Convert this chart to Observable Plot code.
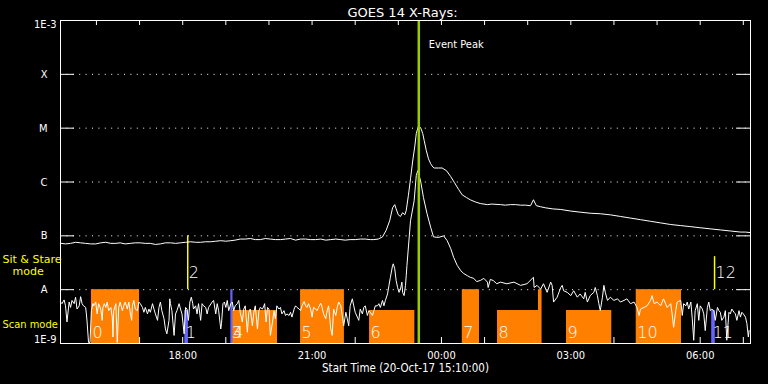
<!DOCTYPE html>
<html>
<head>
<meta charset="utf-8">
<script src="https://cdn.jsdelivr.net/npm/d3@7"></script>
<script src="https://cdn.jsdelivr.net/npm/@observablehq/plot@0.6"></script>
<style>
  html, body { margin: 0; padding: 0; background: #000; }
  svg { display: block; }
</style>
</head>
<body>
<div id="chart"></div>
<script>
// ---- Data ----
const startTime = "2017-10-20T15:10:00Z";
const endTime = "2017-10-21T07:10:00Z";
const chartTitle = "GOES 14 X-Rays:";
const xCaption = "Start Time (20-Oct-17 15:10:00)";
const eventPeakMinute = 498.5; // minutes after start
const eventPeakLabel = "Event Peak";

// y tick values and labels
const yTickValues = [1e-9, 1e-8, 1e-7, 1e-6, 1e-5, 1e-4, 1e-3];
const yTickLabels = ["1E-9", "A", "B", "C", "M", "X", "1E-3"];
const gridLevels = [1e-8, 1e-7, 1e-6, 1e-5, 1e-4];

// x tick labels
const xTickTimes = ["2017-10-20T18:00:00Z", "2017-10-20T21:00:00Z", "2017-10-21T00:00:00Z", "2017-10-21T03:00:00Z", "2017-10-21T06:00:00Z"];
const xTickLabels = ["18:00", "21:00", "00:00", "03:00", "06:00"];

// Long channel (1-8 A): [minutes after start, log10 flux]
const longChannel = [
  [1,-7.14],[7,-7.15],[14,-7.14],[21,-7.12],[28,-7.13],[35,-7.14],[42,-7.15],[49,-7.15],[56,-7.13],[63,-7.12],
  [70,-7.14],[77,-7.14],[83,-7.13],[90,-7.15],[97,-7.14],[104,-7.13],[111,-7.13],[118,-7.14],[125,-7.14],[132,-7.16],
  [139,-7.15],[146,-7.13],[153,-7.13],[160,-7.14],[167,-7.13],[174,-7.12],[181,-7.11],[188,-7.12],[195,-7.12],[202,-7.11],
  [209,-7.11],[216,-7.10],[223,-7.09],[230,-7.10],[237,-7.09],[243,-7.08],[250,-7.06],[257,-7.06],[264,-7.05],[271,-7.07],
  [278,-7.07],[285,-7.05],[292,-7.06],[299,-7.07],[306,-7.07],[313,-7.06],[320,-7.05],[327,-7.08],[334,-7.06],[341,-7.06],
  [348,-7.07],[355,-7.07],[362,-7.06],[369,-7.08],[376,-7.07],[383,-7.06],[390,-7.07],[396,-7.08],[403,-7.07],[410,-7.07],
  [417,-7.06],[424,-7.06],[431,-7.07],[436,-7.07],[442,-7.06],[448,-7.02],[453,-6.90],[458,-6.72],[462,-6.48],[465,-6.42],
  [467,-6.50],[470,-6.61],[473,-6.64],[476,-6.57],[479,-6.61],[481,-6.53],[484,-6.25],[487,-5.94],[490,-5.61],[493,-5.33],
  [495,-5.10],[498,-4.96],[501,-4.99],[504,-5.10],[506,-5.23],[509,-5.42],[512,-5.57],[515,-5.66],[518,-5.72],[520,-5.74],
  [526,-5.74],[531,-5.74],[537,-5.79],[543,-5.90],[548,-6.01],[554,-6.14],[559,-6.24],[565,-6.29],[570,-6.33],[577,-6.37],
  [584,-6.40],[594,-6.42],[600,-6.41],[612,-6.42],[619,-6.43],[626,-6.42],[633,-6.42],[640,-6.43],[647,-6.43],[654,-6.44],
  [658,-6.33],[662,-6.44],[668,-6.46],[675,-6.48],[685,-6.50],[696,-6.51],[710,-6.54],[723,-6.56],[737,-6.58],[751,-6.59],
  [765,-6.61],[779,-6.64],[793,-6.67],[807,-6.70],[821,-6.73],[835,-6.76],[849,-6.79],[863,-6.81],[877,-6.83],[890,-6.85],
  [904,-6.87],[918,-6.89],[932,-6.91],[946,-6.93],[953,-6.93],[960,-6.94]
];

// Short channel (0.5-4 A): [minutes after start, log10 flux]
const shortChannel = [
  [0,-8.23],[2,-8.26],[5,-8.19],[7,-8.30],[9,-8.60],[12,-8.23],[14,-8.33],[16,-8.20],[19,-8.26],[21,-8.14],
  [23,-8.36],[26,-8.30],[28,-8.13],[30,-8.26],[32,-8.30],[35,-8.33],[36,-8.45],[37,-8.60],[39,-8.98],[41,-8.98],
  [43,-8.39],[45,-8.26],[46,-8.30],[49,-8.23],[51,-8.45],[53,-8.26],[56,-8.36],[58,-8.57],[59,-8.33],[61,-8.26],
  [63,-8.33],[65,-8.23],[67,-8.39],[70,-8.33],[72,-8.51],[73,-8.88],[74,-8.39],[77,-8.26],[79,-8.98],[81,-8.33],
  [83,-8.23],[86,-8.39],[88,-8.30],[90,-8.23],[93,-8.36],[95,-8.23],[97,-8.42],[99,-8.57],[100,-8.30],[102,-8.20],
  [104,-8.36],[107,-8.39],[109,-8.23],[111,-8.26],[114,-8.33],[116,-8.42],[118,-8.33],[121,-8.45],[123,-8.36],[125,-8.42],
  [128,-8.26],[130,-8.36],[132,-8.45],[135,-8.57],[137,-8.33],[139,-8.23],[141,-8.39],[144,-8.54],[146,-8.73],[148,-8.82],
  [151,-8.57],[152,-8.17],[153,-8.26],[155,-8.39],[158,-8.85],[160,-8.45],[162,-8.39],[165,-8.26],[167,-8.36],[169,-8.45],
  [172,-8.82],[174,-8.33],[176,-8.36],[178,-8.57],[180,-8.23],[182,-8.14],[184,-8.26],[185,-8.36],[188,-8.30],[190,-8.45],
  [192,-8.26],[195,-8.57],[197,-8.26],[199,-8.30],[202,-8.33],[204,-8.45],[206,-8.33],[211,-8.23],[213,-8.20],[216,-8.45],
  [218,-8.26],[220,-8.39],[223,-8.73],[224,-8.63],[226,-8.26],[228,-8.23],[230,-8.33],[232,-8.20],[234,-8.39],[237,-8.26],
  [239,-8.23],[241,-8.39],[243,-8.30],[246,-8.26],[248,-8.20],[250,-8.42],[253,-8.60],[255,-8.36],[257,-8.30],[260,-8.79],
  [262,-8.42],[264,-8.36],[267,-8.67],[269,-8.42],[271,-8.30],[274,-8.73],[276,-8.39],[278,-8.33],[281,-8.36],[283,-8.30],
  [284,-8.26],[286,-8.60],[288,-8.33],[290,-8.36],[292,-8.85],[295,-8.60],[297,-8.39],[299,-8.54],[301,-8.30],[304,-8.36],
  [306,-8.33],[308,-8.45],[311,-8.39],[313,-8.48],[315,-8.45],[318,-8.48],[320,-8.42],[322,-8.51],[325,-8.36],[327,-8.30],
  [329,-8.33],[332,-8.36],[334,-8.39],[336,-8.30],[339,-8.22],[341,-8.30],[343,-8.33],[345,-8.26],[348,-8.36],[350,-8.51],
  [352,-8.33],[355,-8.36],[357,-8.39],[359,-8.33],[362,-8.25],[364,-8.33],[366,-8.45],[369,-8.54],[371,-8.39],[373,-8.30],
  [376,-8.73],[378,-8.85],[380,-8.36],[383,-8.48],[385,-8.33],[387,-8.23],[390,-8.30],[392,-8.48],[394,-8.67],[397,-8.42],
  [399,-8.54],[401,-8.67],[403,-8.30],[406,-8.17],[408,-8.30],[410,-8.42],[413,-8.51],[415,-8.57],[417,-8.36],[420,-8.45],
  [422,-8.33],[424,-8.30],[427,-8.48],[429,-8.39],[431,-8.42],[434,-8.48],[436,-8.39],[438,-8.30],[441,-8.30],[443,-8.26],
  [445,-8.33],[448,-8.20],[450,-8.30],[452,-8.20],[455,-8.08],[457,-7.92],[459,-7.77],[462,-7.55],[463,-7.52],[465,-7.61],
  [467,-7.83],[469,-7.96],[471,-8.05],[473,-7.99],[475,-7.86],[476,-8.05],[478,-8.11],[480,-7.92],[481,-7.74],[482,-7.55],
  [487,-6.72],[492,-6.35],[495,-5.88],[497,-5.79],[501,-5.98],[505,-6.29],[510,-6.59],[515,-6.84],[519,-7.02],[526,-7.03],
  [533,-7.00],[538,-7.09],[543,-7.24],[547,-7.40],[552,-7.55],[557,-7.65],[561,-7.70],[566,-7.74],[570,-7.77],[575,-7.79],
  [579,-7.85],[584,-7.83],[589,-7.79],[594,-7.86],[595,-7.96],[598,-7.81],[602,-7.83],[607,-7.89],[612,-7.86],[621,-7.89],
  [631,-7.86],[640,-7.92],[649,-7.89],[658,-7.77],[659,-7.96],[663,-7.92],[668,-7.99],[672,-7.89],[677,-8.05],[682,-7.86],
  [684,-7.92],[686,-8.23],[691,-8.14],[696,-7.96],[698,-7.92],[700,-8.02],[705,-8.05],[710,-8.11],[714,-8.02],[719,-8.14],
  [723,-8.08],[728,-8.17],[730,-8.05],[733,-8.23],[737,-8.11],[742,-8.05],[744,-7.96],[747,-8.11],[749,-8.26],[751,-8.39],
  [754,-8.14],[756,-7.92],[758,-8.05],[761,-8.20],[765,-8.14],[770,-8.20],[775,-8.17],[779,-8.23],[784,-8.20],[788,-8.17],
  [793,-8.26],[798,-8.23],[802,-8.33],[805,-8.48],[807,-8.36],[812,-8.33],[816,-8.30],[821,-8.20],[823,-8.11],[826,-8.26],
  [830,-8.23],[835,-8.30],[839,-8.17],[844,-8.33],[849,-8.26],[851,-8.45],[853,-8.70],[856,-8.39],[858,-8.23],[863,-8.20],
  [865,-8.48],[867,-8.26],[870,-8.30],[872,-8.23],[874,-8.36],[877,-8.23],[879,-8.54],[881,-8.94],[883,-8.39],[886,-8.26],
  [888,-8.57],[890,-8.30],[893,-8.36],[895,-8.45],[897,-8.76],[900,-8.33],[902,-8.23],[904,-8.39],[906,-8.36],[909,-8.39],
  [911,-8.57],[914,-8.33],[916,-8.39],[918,-8.42],[920,-8.57],[923,-8.51],[925,-8.39],[927,-8.94],[930,-8.42],[932,-8.45],
  [934,-8.36],[937,-8.42],[939,-8.45],[941,-8.57],[944,-8.39],[946,-8.51],[948,-8.42],[950,-8.45],[953,-8.51],[955,-8.63],
  [957,-8.88],[958,-8.76]
];

// Observation intervals (minutes after start); top flux of the marker block
const scanBlocks = [
  {label: "0",  start: 43,  end: 110, top: 1e-8,   mode: "raster"},
  {label: "4",  start: 239, end: 302, top: 4.1e-9, mode: "raster"},
  {label: "5",  start: 334, end: 395, top: 1e-8,   mode: "raster"},
  {label: "6",  start: 430, end: 493, top: 4.1e-9, mode: "raster"},
  {label: "7",  start: 559, end: 583, top: 1e-8,   mode: "raster"},
  {label: "8",  start: 608, end: 665, top: 4.1e-9, mode: "raster"},
  {label: "",   start: 665, end: 670, top: 1e-8,   mode: "raster"},
  {label: "9",  start: 704, end: 767, top: 4.1e-9, mode: "raster"},
  {label: "10", start: 801, end: 864, top: 1e-8,   mode: "raster"},
  {label: "1",  start: 173, end: 178, top: 4.1e-9, mode: "sample"},
  {label: "3",  start: 237, end: 240, top: 1e-8,   mode: "sample"},
  {label: "11", start: 906, end: 911, top: 4.1e-9, mode: "sample"}
];
const stareEvents = [
  {label: "2",  time: 177, bottom: 1e-8, top: 1e-7},
  {label: "12", time: 910, bottom: 1e-8, top: 4.1e-8}
];
const leftLabels = ["Sit & Stare", "mode", "Scan mode"];

// ---- Chart ----
const t0 = new Date(startTime);
const t1 = new Date(endTime);
const at = (m) => new Date(t0.getTime() + m * 60000);
const hourTicks = d3.utcHours(t0, t1);
const xTicks = xTickTimes.map((t, i) => ({time: new Date(t), label: xTickLabels[i]}));
const yTicks = yTickValues.map((v, i) => ({value: v, label: yTickLabels[i]}));
const letterTicks = yTicks.slice(1, -1);
const longData = longChannel.map(([m, e]) => ({time: at(m), flux: 10 ** e}));
const shortData = shortChannel.map(([m, e]) => ({time: at(m), flux: 10 ** e}));
const FONT = "'DejaVu Sans', sans-serif";
const COND = "'DejaVu Sans Condensed', 'Liberation Sans Narrow', 'DejaVu Sans', sans-serif";
const T = {fill: "#fff", lineAnchor: "middle"};

const plot = Plot.plot({
  width: 768,
  height: 384,
  marginLeft: 60,
  marginRight: 18,
  marginTop: 20,
  marginBottom: 41,
  style: {background: "#000", color: "#fff", fontFamily: FONT, overflow: "visible"},
  x: {type: "utc", domain: [t0, t1], axis: null},
  y: {type: "log", domain: [1e-9, 1e-3], axis: null},
  color: {domain: ["raster", "sample"], range: ["#ff8000", "#6464ff"]},
  marks: [
    // dotted grid
    Plot.ruleY(gridLevels, {stroke: "#fff", strokeDasharray: "1,5.4"}),
    // inner tick marks
    Plot.tickY(gridLevels, {stroke: "#fff", insetRight: 676}),
    Plot.tickY(gridLevels, {stroke: "#fff", insetLeft: 676}),
    Plot.tickX(hourTicks, {stroke: "#fff", insetBottom: 318}),
    Plot.tickX(hourTicks, {stroke: "#fff", insetTop: 317}),
    // observation blocks
    Plot.rectY(scanBlocks, {x1: d => at(d.start), x2: d => at(d.end), y1: 1e-9, y2: "top", fill: "mode"}),
    Plot.ruleX(stareEvents, {x: d => at(d.time), y1: "bottom", y2: "top", stroke: "#ffff00", strokeWidth: 1.5}),
    // block labels
    Plot.text(scanBlocks, {...T, x: d => at(d.start), text: "label", frameAnchor: "bottom", dy: -11, dx: 1, textAnchor: "start", fontSize: 16, fontWeight: 300}),
    Plot.text(stareEvents, {...T, x: d => at(d.time), text: "label", frameAnchor: "bottom", dy: -71, dx: 1, textAnchor: "start", fontSize: 16, fontWeight: 300}),
    // X-ray curves
    Plot.line(longData, {x: "time", y: "flux", stroke: "#fff", strokeWidth: 1}),
    Plot.line(shortData, {x: "time", y: "flux", stroke: "#fff", strokeWidth: 1}),
    // event peak
    Plot.ruleX([at(eventPeakMinute)], {stroke: "#9acd00", strokeWidth: 2.5}),
    Plot.text([eventPeakLabel], {...T, x: at(eventPeakMinute), frameAnchor: "top", dy: 24, dx: 10, textAnchor: "start", fontSize: 11, fontFamily: COND}),
    // frame
    Plot.frame({stroke: "#fff"}),
    // y tick labels
    Plot.text(letterTicks, {...T, y: "value", text: "label", frameAnchor: "left", dx: -13, textAnchor: "end", fontSize: 11, fontFamily: COND}),
    Plot.text([yTicks[0]], {...T, y: "value", text: "label", frameAnchor: "left", dx: -4, dy: -4, textAnchor: "end", fontSize: 11, fontFamily: COND}),
    Plot.text([yTicks[yTicks.length - 1]], {...T, y: "value", text: "label", frameAnchor: "left", dx: -4, dy: 4, textAnchor: "end", fontSize: 11, fontFamily: COND}),
    // left mode labels
    Plot.text([leftLabels[0]], {...T, fill: "#ffff00", frameAnchor: "bottom-left", dx: -58, dy: -84, textAnchor: "start", fontSize: 11}),
    Plot.text([leftLabels[1]], {...T, fill: "#ffff00", frameAnchor: "bottom-left", dx: -48, dy: -72.5, textAnchor: "start", fontSize: 11}),
    Plot.text([leftLabels[2]], {...T, fill: "#ffff00", frameAnchor: "bottom-left", dx: -58, dy: -19.5, textAnchor: "start", fontSize: 11, fontFamily: COND}),
    // x tick labels
    Plot.text(xTicks, {...T, x: "time", text: "label", frameAnchor: "bottom", dy: 12, fontSize: 11, fontFamily: COND}),
    // caption and title
    Plot.text([xCaption], {...T, frameAnchor: "bottom", dy: 25, fontSize: 11.5, fontFamily: COND}),
    Plot.text([chartTitle], {...T, frameAnchor: "top", dy: -8, dx: -3, fontSize: 13})
  ]
});
document.getElementById("chart").appendChild(plot);
</script>
</body>
</html>
